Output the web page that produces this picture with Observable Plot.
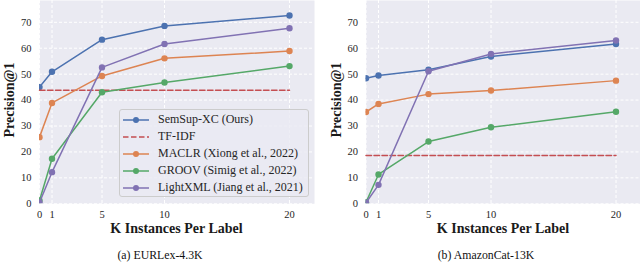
<!DOCTYPE html>
<html>
<head>
<meta charset="utf-8">
<script src="https://cdn.jsdelivr.net/npm/d3@7"></script>
<script src="https://cdn.jsdelivr.net/npm/@observablehq/plot@0.6"></script>
<style>
  html, body { margin: 0; padding: 0; background: #fff; }
  #wrap { position: relative; width: 640px; height: 278px; overflow: hidden; font-family: "Liberation Serif", "Times New Roman", serif; color: #262626; }
  .panel { position: absolute; top: 0; }
  .lbl { position: absolute; transform: translate(-50%, -50%); white-space: nowrap; line-height: 1; }
  .xl { font-weight: bold; font-size: 14px; color: #1a1a1a; }
  .yl { font-weight: bold; font-size: 14px; color: #1a1a1a; transform: translate(-50%, -50%) rotate(-90deg); }
  .cap { font-size: 11.8px; color: #111; }
  #legend { position: absolute; left: 119px; top: 109px; width: 190px; height: 88px; background: rgba(234,234,242,0.8); border: 1px solid #cccccc; border-radius: 3px; box-sizing: border-box; }
  .lrow { position: absolute; left: 0; height: 14px; display: flex; align-items: center; font-size: 12px; color: #262626; white-space: nowrap; }
  .lrow svg { margin-left: 3px; margin-right: 9px; }
</style>
</head>
<body>
<div id="wrap"></div>
<script>
// ---- data ----
const K = [0, 1, 5, 10, 20];
const yTicks = [0, 10, 20, 30, 40, 50, 60, 70];
const seriesNames = ["SemSup-XC (Ours)", "TF-IDF", "MACLR (Xiong et al., 2022)", "GROOV (Simig et al., 2022)", "LightXML (Jiang et al., 2021)"];
const seriesColors = ["#4c72b0", "#c44e52", "#dd8452", "#55a868", "#8172b3"];

// EURLex-4.3K
const eurSemSup = [45.0, 50.9, 63.3, 68.6, 72.6];
const eurTfidf = 43.8;
const eurMaclr = [25.7, 38.9, 49.3, 56.1, 58.9];
const eurGroov = [1.3, 17.4, 43.0, 46.8, 53.1];
const eurLightxml = [0.5, 12.2, 52.6, 61.6, 67.7];

// AmazonCat-13K
const amzSemSup = [48.4, 49.5, 51.7, 56.8, 61.6];
const amzTfidf = 18.6;
const amzMaclr = [35.4, 38.5, 42.3, 43.7, 47.5];
const amzGroov = [0.6, 11.3, 24.0, 29.5, 35.5];
const amzLightxml = [0.4, 7.3, 51.1, 57.8, 63.0];

const xLabel = "K Instances Per Label";
const yLabel = "Precision@1";
const captions = ["(a) EURLex-4.3K", "(b) AmazonCat-13K"];

// ---- drawing ----
function toRows(vals) { return K.map((k, i) => ({k, v: vals[i]})); }

function panel(semsup, tfidf, maclr, groov, lightxml, marginLeft, marginRight) {
  const tfRows = [K[0], K[K.length - 1]].map(k => ({k, v: tfidf}));
  const marks = [
    Plot.frame({fill: "#eaeaf2", stroke: null}),
    Plot.gridX({ticks: K, stroke: "#ffffff", strokeOpacity: 1, strokeWidth: 1, strokeDasharray: "3,2"}),
    Plot.gridY({ticks: yTicks, stroke: "#ffffff", strokeOpacity: 1, strokeWidth: 1, strokeDasharray: "3,2"}),
    Plot.axisX({ticks: K, tickSize: 0, tickPadding: 7, label: null}),
    Plot.axisY({ticks: yTicks, tickSize: 0, tickPadding: 8, label: null})
  ];
  const addSeries = (vals, ci) => {
    const rows = toRows(vals);
    marks.push(Plot.line(rows, {x: "k", y: "v", stroke: seriesColors[ci], strokeWidth: 1.5, clip: true}));
    marks.push(Plot.dot(rows, {x: "k", y: "v", fill: seriesColors[ci], r: 3.2, clip: true}));
  };
  addSeries(semsup, 0);
  marks.push(Plot.line(tfRows, {x: "k", y: "v", stroke: seriesColors[1], strokeWidth: 1.5, strokeDasharray: "5.5,2.5"}));
  addSeries(maclr, 2);
  addSeries(groov, 3);
  addSeries(lightxml, 4);
  return Plot.plot({
    width: 320,
    height: 240,
    marginLeft, marginRight,
    marginTop: 0,
    marginBottom: 36.7,
    x: {domain: [0, 22]},
    y: {domain: [0, 78.4]},
    style: {fontFamily: "'Liberation Serif', 'Times New Roman', serif", fontSize: "10.5px", color: "#262626", background: "transparent", overflow: "visible"},
    marks
  });
}

const wrap = document.getElementById("wrap");
const left = document.createElement("div");
left.className = "panel"; left.style.left = "0px";
left.appendChild(panel(eurSemSup, eurTfidf, eurMaclr, eurGroov, eurLightxml, 39, 6));
wrap.appendChild(left);
const right = document.createElement("div");
right.className = "panel"; right.style.left = "320px";
right.appendChild(panel(amzSemSup, amzTfidf, amzMaclr, amzGroov, amzLightxml, 45.5, -0.5));
wrap.appendChild(right);

function addLabel(cls, text, x, y) {
  const d = document.createElement("div");
  d.className = "lbl " + cls;
  d.textContent = text;
  d.style.left = x + "px"; d.style.top = y + "px";
  wrap.appendChild(d);
}
addLabel("xl", xLabel, 176.5, 229);
addLabel("xl", xLabel, 503, 229);
addLabel("yl", yLabel, 10, 100);
addLabel("yl", yLabel, 337, 100);
addLabel("cap", captions[0], 160, 256);
addLabel("cap", captions[1], 486, 256);

// legend
const lg = document.createElement("div");
lg.id = "legend";
seriesNames.forEach((name, i) => {
  const row = document.createElement("div");
  row.className = "lrow";
  row.style.top = (2.5 + i * 17) + "px";
  const dashed = i === 1;
  row.innerHTML = `<svg width="26" height="10"><line x1="0" x2="26" y1="5" y2="5" stroke="${seriesColors[i]}" stroke-width="1.5" ${dashed ? 'stroke-dasharray="5.5,2.5"' : ''}/>${dashed ? '' : `<circle cx="13" cy="5" r="3" fill="${seriesColors[i]}"/>`}</svg><span>${name}</span>`;
  lg.appendChild(row);
});
wrap.appendChild(lg);
</script>
</body>
</html>
